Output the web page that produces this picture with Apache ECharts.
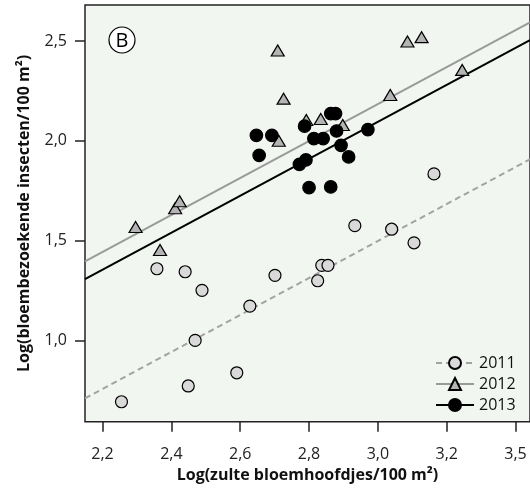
<!DOCTYPE html>
<html><head><meta charset="utf-8">
<script src="https://cdn.jsdelivr.net/npm/echarts@6/dist/echarts.min.js"></script>
<style>html,body{margin:0;padding:0;background:#fff}#c{width:530px;height:492px}</style>
</head><body><div id="c"></div>
<script>
// 2011 (circles)
const x2011 = [2.358,2.440,2.489,2.628,2.701,2.469,2.449,2.590,2.255,2.825,2.837,2.855,3.105,2.933,3.040,3.163];
const y2011 = [1.359,1.344,1.251,1.172,1.326,1.000,0.772,0.838,0.693,1.299,1.376,1.376,1.489,1.575,1.557,1.834];
// 2012 (triangles)
const x2012 = [2.296,2.367,2.411,2.424,2.709,2.726,2.792,2.834,2.898,2.712,3.036,3.086,3.127,3.245];
const y2012 = [1.568,1.453,1.662,1.697,2.452,2.211,2.104,2.109,2.079,2.000,2.229,2.497,2.519,2.355];
// 2013 (black dots)
const x2013 = [2.647,2.692,2.655,2.787,2.814,2.841,2.863,2.877,2.880,2.893,2.915,2.971,2.772,2.791,2.800,2.863];
const y2013 = [2.027,2.027,1.927,2.073,2.011,2.011,2.136,2.136,2.049,1.977,1.919,2.056,1.882,1.904,1.765,1.769];
// regression lines y = a + b*x
const years = ['2011','2012','2013'];
const slope = 0.926;
const intercepts = [-1.280, -0.594, -0.683];
// ticks
const xTicks = [2.2,2.4,2.6,2.8,3.0,3.2,3.4];
const xTickLabels = ['2,2','2,4','2,6','2,8','3,0','3,2','3,5'];
const yTicks = [1.0,1.5,2.0,2.5];
const yTickLabels = ['1,0','1,5','2,0','2,5'];

const X_MIN = 2.149, X_MAX = 3.442, Y_MIN = 0.593, Y_MAX = 2.680;
const FONT = '"Open Sans", "DejaVu Sans", sans-serif';
const zip = (xs, ys) => xs.map((x, i) => [x, ys[i]]);
const lineData = a => [[X_MIN, a + slope * X_MIN], [X_MAX, a + slope * X_MAX]];

const lineColors = ['#a3a3a3', '#9a9a9a', '#000000'];
const lineTypes = [[6, 4], 'solid', 'solid'];
const symbols = ['circle', 'triangle', 'circle'];
const fills = ['#d9d9d9', '#b4b4b4', '#000000'];
const pts = [zip(x2011, y2011), zip(x2012, y2012), zip(x2013, y2013)];
const sizes = [[12, 12], [13, 11], [12.5, 12.5]];

const series = [];
years.forEach((yr, i) => {
  series.push({
    name: yr, type: 'line', data: lineData(intercepts[i]),
    showSymbol: false, symbol: symbols[i], symbolSize: 12,
    lineStyle: { color: lineColors[i], width: 2, type: lineTypes[i] },
    itemStyle: { color: fills[i], borderColor: '#000', borderWidth: 1.2 },
    z: 2, silent: true, animation: false
  });
});
years.forEach((yr, i) => {
  series.push({
    name: 'pts' + yr, type: 'scatter', data: pts[i],
    symbol: symbols[i], symbolSize: sizes[i],
    itemStyle: { color: fills[i], borderColor: '#000', borderWidth: 1.2, opacity: 1 },
    z: 3, animation: false
  });
});

const chart = echarts.init(document.getElementById('c'), null, { renderer: 'canvas' });
chart.setOption({
  animation: false,
  backgroundColor: '#ffffff',
  grid: { left: 85, top: 5, width: 450, height: 416.7, show: true,
          backgroundColor: '#f2f6f1', borderColor: '#222', borderWidth: 1.5 },
  xAxis: {
    type: 'value', min: X_MIN, max: X_MAX,
    name: 'Log(zulte bloemhoofdjes/100 m²)', nameLocation: 'middle', nameGap: 43,
    nameTextStyle: { fontFamily: FONT, fontWeight: 'bold', fontSize: 16, color: '#111' },
    axisLine: { show: false },
    splitLine: { show: false },
    axisTick: { show: true, customValues: xTicks, length: 10, lineStyle: { color: '#222', width: 1.5 } },
    axisLabel: { customValues: xTicks, margin: 25, fontFamily: FONT, fontSize: 16, color: '#222',
      formatter: v => { const k = xTicks.findIndex(t => Math.abs(t - v) < 1e-6); return k >= 0 ? xTickLabels[k] : ''; } }
  },
  yAxis: {
    type: 'value', min: Y_MIN, max: Y_MAX,
    name: 'Log(bloembezoekende insecten/100 m²)', nameLocation: 'middle', nameGap: 53,
    nameTextStyle: { fontFamily: FONT, fontWeight: 'bold', fontSize: 16, color: '#111' },
    axisLine: { show: false },
    splitLine: { show: false },
    axisTick: { show: true, customValues: yTicks, length: 10, lineStyle: { color: '#222', width: 1.5 } },
    axisLabel: { customValues: yTicks, margin: 18, fontFamily: FONT, fontSize: 16, color: '#222',
      formatter: v => { const k = yTicks.findIndex(t => Math.abs(t - v) < 1e-6); return k >= 0 ? yTickLabels[k] : ''; } }
  },
  legend: {
    data: years, orient: 'vertical', left: 430, top: 350,
    itemWidth: 38, itemHeight: 15, itemGap: 5,
    textStyle: { fontFamily: FONT, fontSize: 16, color: '#111' },
    selectedMode: false
  },
  graphic: [
    { type: 'circle', shape: { cx: 122, cy: 40, r: 13 }, style: { fill: '#fff', stroke: '#000', lineWidth: 1.2 }, z: 10 },
    { type: 'text', x: 122, y: 41, style: { text: 'B', fontFamily: FONT, fontSize: 20, fill: '#000', align: 'center', verticalAlign: 'middle' }, z: 11 }
  ],
  series: series
});
</script>
</body></html>
